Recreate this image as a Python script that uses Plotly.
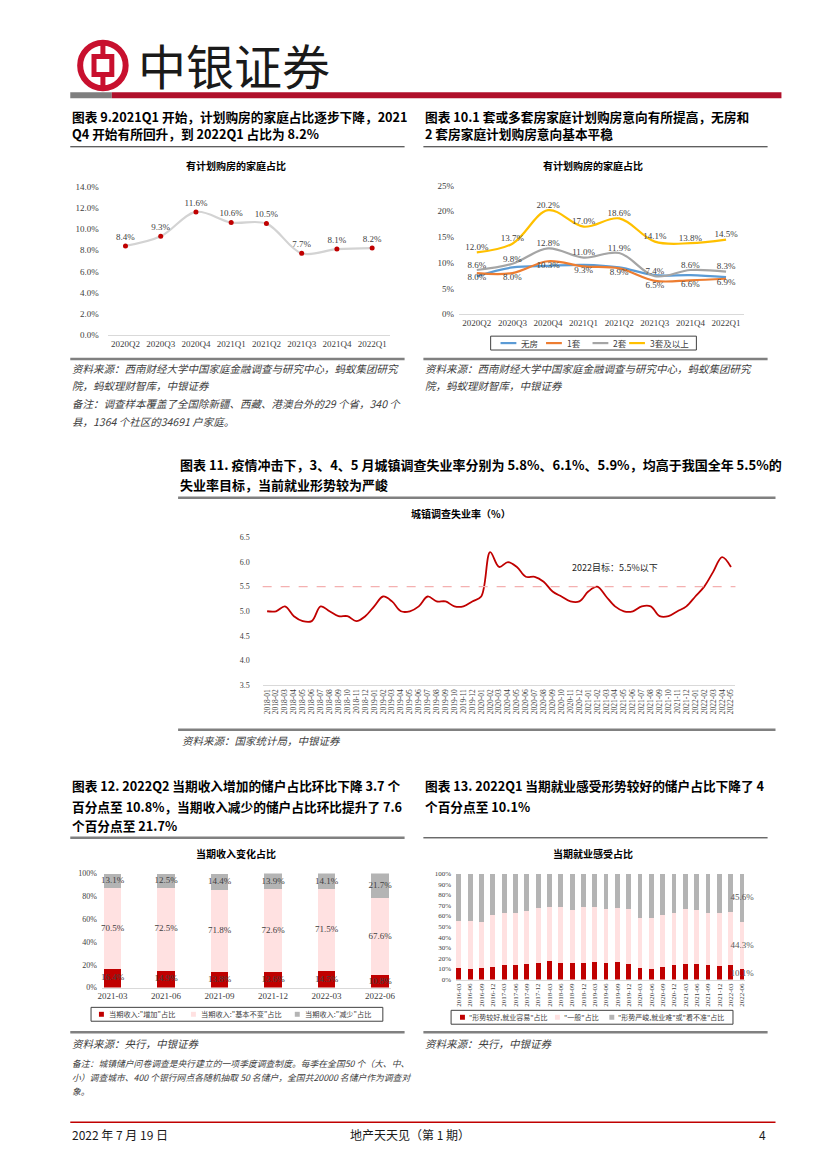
import plotly.graph_objects as go

W, H = 827, 1169
def px(x): return x / W
def py(y): return 1 - y / H

CJK = "Noto Sans CJK SC"
SERIF = "Liberation Serif"
RED = "#C00000"

# ---------------- data ----------------
quarters = ["2020Q2", "2020Q3", "2020Q4", "2021Q1", "2021Q2", "2021Q3", "2021Q4", "2022Q1"]
plan_share = [8.4, 9.3, 11.6, 10.6, 10.5, 7.7, 8.1, 8.2]

no_house = [7.4, 9.1, 9.4, 9.6, 9.1, 7.6, 7.6, 7.2]
one_house = [8.0, 8.0, 10.3, 9.3, 8.9, 6.5, 6.6, 6.9]
two_house = [8.6, 9.8, 12.8, 11.0, 11.9, 7.4, 8.6, 8.3]
three_plus = [12.0, 13.7, 20.2, 17.0, 18.6, 14.1, 13.8, 14.5]

months = [f"{y}-{m:02d}" for y in range(2018, 2022) for m in range(1, 13)] + \
         ["2022-01", "2022-02", "2022-03", "2022-04", "2022-05"]
unemp = [5.0, 5.0, 5.1, 4.9, 4.8, 4.8, 5.1, 5.0, 4.9, 4.9, 4.8, 4.9,
         5.1, 5.3, 5.2, 5.0, 5.0, 5.1, 5.3, 5.2, 5.2, 5.1, 5.1, 5.2,
         5.3, 6.2, 5.9, 6.0, 5.9, 5.7, 5.7, 5.6, 5.4, 5.3, 5.2, 5.2,
         5.4, 5.5, 5.3, 5.1, 5.0, 5.0, 5.1, 5.1, 4.9, 4.9, 5.0, 5.1,
         5.3, 5.5, 5.8, 6.1, 5.9]
TARGET = 5.5

inc_q = ["2021-03", "2021-06", "2021-09", "2021-12", "2022-03", "2022-06"]
inc_up = [16.4, 14.9, 13.8, 13.6, 14.5, 10.8]
inc_same = [70.5, 72.5, 71.8, 72.6, 71.5, 67.6]
inc_down = [13.1, 12.5, 14.4, 13.9, 14.1, 21.7]

job_q = [f"{y}-{m:02d}" for y in range(2016, 2022) for m in (3, 6, 9, 12)] + ["2022-03", "2022-06"]
job_good = [10.9, 10.3, 11.2, 11.8, 13.4, 13.4, 14.3, 15.9, 17.1, 15.9, 15.3, 15.9, 16.5,
            15.9, 16.5, 15.0, 11.2, 10.3, 12.1, 13.4, 15.0, 15.0, 13.4, 13.1, 14.1, 10.1]
job_mid = [44.6, 45.2, 42.8, 48.9, 49.2, 49.8, 49.9, 51.4, 50.9, 52.1, 50.4, 52.9, 52.0,
           50.5, 50.8, 52.0, 46.8, 47.7, 48.6, 48.9, 51.4, 50.7, 48.9, 50.1, 49.8, 44.3]
job_bad = [44.5, 44.5, 46.0, 39.3, 37.4, 36.8, 35.8, 32.7, 32.0, 32.0, 34.3, 31.2, 31.5,
           33.6, 32.7, 33.0, 42.0, 42.0, 39.3, 37.7, 33.6, 34.3, 37.7, 36.8, 36.1, 45.6]

fig = go.Figure()
lblfont = dict(family=SERIF, size=9, color="#404040")

# ---------- chart 9 ----------
fig.add_trace(go.Scatter(x=quarters, y=plan_share, mode="lines+markers+text",
                         line=dict(color="#D3D3D3", width=2.2, shape="spline"),
                         marker=dict(color=RED, size=5),
                         text=[f"{v:.1f}%" for v in plan_share], textposition="top center",
                         textfont=lblfont, cliponaxis=False, showlegend=False,
                         xaxis="x", yaxis="y"))

# ---------- chart 10 ----------
series10 = [("无房", no_house, "#5B9BD5", None),
            ("1套", one_house, "#ED7D31", "bottom center"),
            ("2套", two_house, "#A5A5A5", "top center"),
            ("3套及以上", three_plus, "#FFC000", "top center")]
for name, vals, col, pos in series10:
    fig.add_trace(go.Scatter(x=quarters, y=vals, name=name,
                             mode="lines+text" if pos else "lines",
                             line=dict(color=col, width=2.2, shape="spline"),
                             text=[f"{v:.1f}%" for v in vals] if pos else None,
                             textposition=pos, textfont=lblfont, cliponaxis=False,
                             showlegend=False, xaxis="x2", yaxis="y2"))

# ---------- chart 11 ----------
fig.add_trace(go.Scatter(x=months, y=unemp, mode="lines",
                         line=dict(color=RED, width=1.8, shape="spline"),
                         showlegend=False, xaxis="x3", yaxis="y3"))

# ---------- chart 12 ----------
names12 = ['当期收入:"增加"占比', '当期收入:"基本不变"占比', '当期收入:"减少"占比']
cols12 = [RED, "#FFE1E1", "#B4B4B4"]
for name, vals, col in zip(names12, [inc_up, inc_same, inc_down], cols12):
    fig.add_trace(go.Bar(x=inc_q, y=vals, name=name, marker=dict(color=col, line=dict(width=0)),
                         width=0.33, showlegend=False, xaxis="x4", yaxis="y4"))
bottoms = [0] * len(inc_q)
for vals in [inc_up, inc_same, inc_down]:
    mids = [b + v / 2 for b, v in zip(bottoms, vals)]
    fig.add_trace(go.Scatter(x=inc_q, y=mids, mode="text", text=[f"{v:.1f}%" for v in vals],
                             textfont=dict(family=SERIF, size=9, color="#404040"),
                             showlegend=False, cliponaxis=False, xaxis="x4", yaxis="y4"))
    bottoms = [b + v for b, v in zip(bottoms, vals)]

# ---------- chart 13 ----------
names13 = ['"形势较好,就业容易"占比', '"一般"占比', '"形势严峻,就业难"或"看不准"占比']
for name, vals, col in zip(names13, [job_good, job_mid, job_bad], cols12):
    fig.add_trace(go.Bar(x=job_q, y=vals, name=name, marker=dict(color=col, line=dict(width=0)),
                         width=0.42, showlegend=False, xaxis="x5", yaxis="y5"))
last = job_q[-1]
b = 0
lx, ly, lt = [], [], []
for vals in [job_good, job_mid, job_bad]:
    lx.append(last); ly.append(b + vals[-1] / 2); lt.append(f"{vals[-1]:.1f}%")
    b += vals[-1]
fig.add_trace(go.Scatter(x=lx, y=ly, mode="text", text=lt,
                         textfont=dict(family=SERIF, size=9, color="#595959"),
                         showlegend=False, cliponaxis=False, xaxis="x5", yaxis="y5"))

# ---------------- axes ----------------
def xax(x0, x1, rng, size=9, angle=0, dtick=None):
    d = dict(domain=[px(x0), px(x1)], type="category", range=rng, showgrid=False,
             showline=True, linecolor="#D9D9D9", linewidth=1, ticks="",
             tickfont=dict(family=SERIF, size=size, color="#404040"), tickangle=angle,
             zeroline=False, fixedrange=True)
    if dtick:
        d.update(tickmode="linear", dtick=dtick)
    return d

def yax(y0, y1, rng, vals, texts, anchor, size=9, standoff=0):
    return dict(domain=[py(y1), py(y0)], range=rng, showgrid=False, showline=False,
                zeroline=False, tickmode="array", tickvals=vals, ticktext=texts,
                tickfont=dict(family=SERIF, size=size, color="#404040"), anchor=anchor,
                fixedrange=True, ticks="", ticklabelstandoff=standoff)

t1 = list(range(0, 15, 2))
t2 = list(range(0, 26, 5))
t3 = [3.5, 4.0, 4.5, 5.0, 5.5, 6.0, 6.5]
t4 = list(range(0, 101, 20))
t5 = list(range(0, 101, 10))

fig.update_layout(
    width=W, height=H, margin=dict(l=0, r=0, t=0, b=0),
    paper_bgcolor="white", plot_bgcolor="white", barmode="stack", showlegend=False,
    xaxis=dict(xax(105, 390, [-0.5, 7.5]), anchor="y"),
    yaxis=yax(183, 333, [0, 14], t1, [f"{v:.1f}%" for v in t1], "x", standoff=8),
    xaxis2=dict(xax(460, 748, [-0.5, 7.5]), anchor="y2"),
    yaxis2=yax(182, 312, [0, 25], t2, [f"{v}%" for v in t2], "x2", standoff=4),
    xaxis3=dict(xax(261.5, 739.5, [-0.5, len(months) - 0.5], size=7.5, angle=-90, dtick=1), anchor="y3"),
    yaxis3=yax(537, 686, [3.5, 6.5], t3, [f"{v:.1f}" for v in t3], "x3", size=8, standoff=12),
    xaxis4=dict(xax(99, 391, [-0.2, 5.2]), anchor="y4"),
    yaxis4=yax(876, 991, [0, 100], t4, [f"{v}%" for v in t4], "x4", size=8, standoff=4),
    xaxis5=dict(xax(457, 749.6, [-0.25, len(job_q) - 0.7], size=7, angle=-90, dtick=1), anchor="y5"),
    yaxis5=yax(876, 983, [0, 100], t5, [f"{v}%" for v in t5], "x5", size=7, standoff=4),
)

# ---------------- shapes ----------------
shapes = []
ann = []
def hline(x0, x1, y, color, w):
    shapes.append(dict(type="line", xref="paper", yref="paper", x0=px(x0), x1=px(x1),
                       y0=py(y), y1=py(y), line=dict(color=color, width=w)))

def rect(x0, x1, y0, y1, fill=None, line_color=None, lw=0):
    d = dict(type="rect", xref="paper", yref="paper", x0=px(x0), x1=px(x1), y0=py(y1), y1=py(y0),
             line=dict(width=lw, color=line_color or "rgba(0,0,0,0)"))
    if fill:
        d["fillcolor"] = fill
    shapes.append(d)

def text(x, y, s, size=12, bold=False, italic=False, color="#000000", anchor="left", family=CJK):
    if bold:
        s = f"<b>{s}</b>"
    if italic:
        s = f"<i>{s}</i>"
    ann.append(dict(xref="paper", yref="paper", x=px(x), y=py(y), text=s, showarrow=False,
                    xanchor=anchor, yanchor="middle", font=dict(family=family, size=size, color=color)))

# header bar
rect(67, 109, 88, 94, fill="#7F7F7F")
rect(109, 786, 88, 94, fill="#B0102B")
# logo
LOGO = "#C8102E"
shapes.append(dict(type="circle", xref="paper", yref="paper", x0=px(77), x1=px(123), y0=py(84), y1=py(38),
                   line=dict(color=LOGO, width=6)))
rect(91, 109, 52, 70, line_color=LOGO, lw=5)
for y0, y1 in [(38, 52), (70, 84)]:
    shapes.append(dict(type="line", xref="paper", yref="paper", x0=px(100), x1=px(100),
                       y0=py(y0), y1=py(y1), line=dict(color=LOGO, width=5)))

# chart frames
hline(67, 405, 143, "#262626", 1)
hline(424, 772, 143, "#262626", 1)
hline(67, 405, 357, "#808080", 2.5)
hline(424, 772, 357, "#808080", 2.5)
hline(176, 780, 497, "#808080", 2.5)
hline(176, 780, 731, "#808080", 2.5)
hline(67, 405, 840, "#808080", 2.5)
hline(424, 772, 840, "#262626", 1)
hline(67, 405, 1036, "#808080", 2.5)
hline(424, 772, 1036, "#808080", 2.5)
hline(67, 780, 1127, "#C00000", 1.5)

# target line chart 11
shapes.append(dict(type="line", xref="x3 domain", yref="y3", x0=0, x1=1, y0=TARGET, y1=TARGET,
                   line=dict(color="#F4B0B0", width=1.2, dash="dash")))

# ---------------- manual legends ----------------
LG = "#404040"
rect(492, 700, 334, 348, line_color=LG, lw=1)
leg10 = [(502, 518, "无房", "#5B9BD5"), (548, 564, "1套", "#ED7D31"),
         (595, 611, "2套", "#A5A5A5"), (632, 648, "3套及以上", "#FFC000")]
for x0, x1, name, col in leg10:
    hline(x0, x1, 341, col, 2.2)
    text(x1 + 3, 341, name, 8.5, color=LG)
rect(88, 383, 1011, 1025, line_color=LG, lw=1)
leg12 = [(96, names12[0], cols12[0]), (189, names12[1], cols12[1]), (294, names12[2], cols12[2])]
for x0, name, col in leg12:
    rect(x0, x0 + 5, 1015.5, 1020.5, fill=col)
    text(x0 + 8, 1018, name, 7.2, color=LG)
rect(452, 737, 1014, 1028, line_color=LG, lw=1)
leg13 = [(461, names13[0], cols12[0]), (557, names13[1], cols12[1]), (612, names13[2], cols12[2])]
for x0, name, col in leg13:
    rect(x0, x0 + 5, 1018.5, 1023.5, fill=col)
    text(x0 + 7, 1021, name, 7, color=LG)

fig.update_layout(shapes=shapes)

# ---------------- annotations ----------------
text(133, 60, "中银证券", size=48, color="#1A1A1A")

HS = 12.7
text(67, 112, "图表 9.2021Q1 开始，计划购房的家庭占比逐步下降，2021", HS, bold=True)
text(67, 130, "Q4 开始有所回升，到 2022Q1 占比为 8.2%", HS, bold=True)
text(424, 112, "图表 10.1 套或多套房家庭计划购房意向有所提高，无房和", HS, bold=True)
text(424, 130, "2 套房家庭计划购房意向基本平稳", HS, bold=True)

text(235, 162, "有计划购房的家庭占比", 10, bold=True, anchor="center")
text(595, 162, "有计划购房的家庭占比", 10, bold=True, anchor="center")

src = "#404040"
SS = 10.5
text(67, 367, "资料来源：西南财经大学中国家庭金融调查与研究中心，蚂蚁集团研究", SS, italic=True, color=src)
text(67, 384, "院，蚂蚁理财智库，中银证券", SS, italic=True, color=src)
text(67, 402, "备注：调查样本覆盖了全国除新疆、西藏、港澳台外的29 个省，340 个", SS, italic=True, color=src)
text(67, 420, "县，1364 个社区的34691 户家庭。", SS, italic=True, color=src)
text(424, 367, "资料来源：西南财经大学中国家庭金融调查与研究中心，蚂蚁集团研究", SS, italic=True, color=src)
text(424, 384, "院，蚂蚁理财智库，中银证券", SS, italic=True, color=src)

text(176, 463, "图表 11. 疫情冲击下，3、4、5 月城镇调查失业率分别为 5.8%、6.1%、5.9%，均高于我国全年 5.5%的", 13, bold=True)
text(176, 484, "失业率目标，当前就业形势较为严峻", 13, bold=True)
text(462, 513, "城镇调查失业率（%）", 10, bold=True, anchor="center")
text(178, 742, "资料来源：国家统计局，中银证券", SS, italic=True, color=src)

text(67, 787, "图表 12. 2022Q2 当期收入增加的储户占比环比下降 3.7 个", HS, bold=True)
text(67, 808, "百分点至 10.8%，当期收入减少的储户占比环比提升了 7.6", HS, bold=True)
text(67, 828, "个百分点至 21.7%", HS, bold=True)
text(424, 787, "图表 13. 2022Q1 当期就业感受形势较好的储户占比下降了 4", HS, bold=True)
text(424, 808, "个百分点至 10.1%", HS, bold=True)

text(235, 856, "当期收入变化占比", 10, bold=True, anchor="center")
text(595, 856, "当期就业感受占比", 10, bold=True, anchor="center")

text(67, 1047, "资料来源：央行，中银证券", SS, italic=True, color=src)
text(424, 1047, "资料来源：央行，中银证券", SS, italic=True, color=src)
text(67, 1068, "备注：城镇储户问卷调查是央行建立的一项季度调查制度。每季在全国50 个（大、中、", 8.8, italic=True, color=src)
text(67, 1082, "小）调查城市、400 个银行网点各随机抽取 50 名储户，全国共20000 名储户作为调查对", 8.8, italic=True, color=src)
text(67, 1096, "象。", 8.8, italic=True, color=src)

text(67, 1139, "2022 年 7 月 19 日", 12, color="#1A1A1A")
text(410, 1139, "地产天天见（第 1 期）", 12, color="#1A1A1A", anchor="center")
text(772, 1139, "4", 12, color="#1A1A1A", anchor="right")

ann.append(dict(xref="x3", yref="y3", x="2021-04", y=5.88, text="2022目标：5.5%以下", showarrow=False,
                xanchor="center", yanchor="middle", font=dict(family=CJK, size=9, color="#262626")))

fig.update_layout(annotations=ann)
fig.write_html("out.html", config={"displayModeBar": False},
               post_script="document.body.style.margin='0';document.body.style.overflow='hidden';")
